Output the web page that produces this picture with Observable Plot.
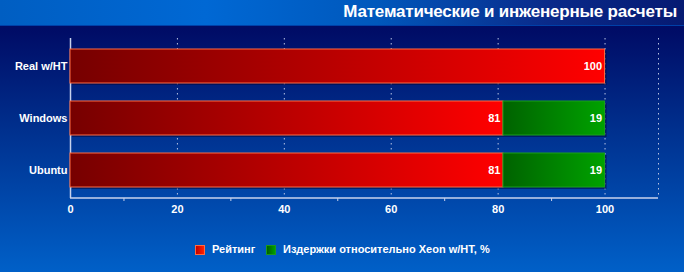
<!DOCTYPE html>
<html>
<head>
<meta charset="utf-8">
<script src="https://cdn.jsdelivr.net/npm/d3@7"></script>
<script src="https://cdn.jsdelivr.net/npm/@observablehq/plot@0.6"></script>
<style>
  html, body { margin: 0; padding: 0; }
  body { width: 684px; height: 272px; overflow: hidden; font-family: "Liberation Sans", Arial, sans-serif; }
  #wrap { position: relative; width: 684px; height: 272px;
    background: linear-gradient(to bottom, #000a62 0px, #000c66 30px, #00308e 130px, #0060c8 272px); }
  #title { position: absolute; left: 0; top: 0; width: 684px; height: 25px;
    background: linear-gradient(to right, #005ec2 0%, #0068d4 30%, #0058bc 55%, #0a2a8a 80%, #061a72 100%);
    border-bottom: 1px solid #0040a8; box-sizing: content-box; }
  #title span { position: absolute; right: 7px; top: 2px; color: #fff; font-weight: bold; font-size: 17px; letter-spacing: -0.2px; }
  #chart { position: absolute; left: 0; top: 26px; }
  #legend { position: absolute; left: 0; top: 242px; width: 684px; height: 16px; color: #fff; font-weight: bold; font-size: 11px; }
  .sw { position: absolute; top: 3px; width: 8px; height: 8px; }
  .lt { position: absolute; top: 0px; white-space: nowrap; line-height: 14px; }
</style>
</head>
<body>
<div id="wrap">
  <div id="title"><span>Математические и инженерные расчеты</span></div>
  <div id="chart"></div>
  <div id="legend">
    <div class="sw" style="left:195px;background:linear-gradient(to right,#c00000,#ff2000);border:1px solid #ff6a40;"></div>
    <div class="lt" style="left:212px;">Рейтинг</div>
    <div class="sw" style="left:266px;background:linear-gradient(to right,#006000,#00a000);border:1px solid #1a9a1a;"></div>
    <div class="lt" style="left:283px;">Издержки относительно Xeon w/HT, %</div>
  </div>
</div>
<script>
const categories = ["Real w/HT", "Windows", "Ubuntu"];
const rating = [100, 81, 81];
const overhead = [0, 19, 19];
const xTicks = [0, 20, 40, 60, 80, 100];
const minorTicks = [10, 30, 50, 70, 90];
const gridTicks = [20, 40, 60, 80, 100, 110];
const seriesNames = ["Рейтинг", "Издержки относительно Xeon w/HT, %"];

const rows = categories.map((c, i) => ({cat: c, r: rating[i], o: overhead[i]}));
const greenRows = rows.filter(d => d.o > 0);

const defs = () => {
  const g = d3.create("svg:defs");
  const red = g.append("linearGradient").attr("id", "gradRed").attr("x1", 0).attr("x2", 1).attr("y1", 0).attr("y2", 0);
  red.append("stop").attr("offset", "0%").attr("stop-color", "#760000");
  red.append("stop").attr("offset", "100%").attr("stop-color", "#ff0000");
  const green = g.append("linearGradient").attr("id", "gradGreen").attr("x1", 0).attr("x2", 1).attr("y1", 0).attr("y2", 0);
  green.append("stop").attr("offset", "0%").attr("stop-color", "#006200");
  green.append("stop").attr("offset", "100%").attr("stop-color", "#00a200");
  return g.node();
};

const axisLine = (index, scales, values, dim) => {
  const y = dim.height - dim.marginBottom;
  const g = d3.create("svg:line")
    .attr("x1", scales.x(0)).attr("x2", scales.x(110))
    .attr("y1", y).attr("y2", y)
    .attr("stroke", "#c8d2ec").attr("stroke-width", 1.5);
  return g.node();
};

const plot = Plot.plot({
  width: 684,
  height: 200,
  marginLeft: 70,
  marginRight: 26,
  marginTop: 12,
  marginBottom: 28,
  style: {background: "transparent", color: "#fff", fontFamily: "Liberation Sans, Arial, sans-serif"},
  x: {domain: [0, 110], axis: null, label: null},
  y: {domain: categories, paddingInner: 0.34, paddingOuter: 0.18, axis: null, label: null},
  marks: [
    defs,
    Plot.ruleX(gridTicks, {stroke: "#b8c4e4", strokeDasharray: "1.5,3.5", strokeWidth: 1}),
    Plot.ruleX([0], {stroke: "#c8d2ec", strokeWidth: 1.5}),
    axisLine,
    Plot.axisX({ticks: minorTicks, tickSize: 3, text: null, label: null, stroke: "#c8d2ec"}),
    Plot.axisX({ticks: xTicks, tickSize: 0, tickPadding: 7, label: null, fontSize: 11, fontWeight: "bold", fill: "#fff"}),
    Plot.axisY({tickSize: 0, tickPadding: 3, label: null, fontSize: 11, fontWeight: "bold", fill: "#fff"}),
    Plot.barX(rows, {x1: 0, x2: d => d.r + d.o, y: "cat", dx: 2, dy: 2, fill: "#000a40", fillOpacity: 0.55}),
    Plot.barX(rows, {x1: 0, x2: "r", y: "cat", fill: "url(#gradRed)", stroke: "#ff6a40", strokeWidth: 1, title: () => seriesNames[0]}),
    Plot.barX(greenRows, {x1: "r", x2: d => d.r + d.o, y: "cat", fill: "url(#gradGreen)", stroke: "#1aa01a", strokeWidth: 1, title: () => seriesNames[1]}),
    Plot.text(rows, {x: "r", y: "cat", text: d => String(d.r), textAnchor: "end", dx: -3, fill: "#fff", fontSize: 11, fontWeight: "bold"}),
    Plot.text(greenRows, {x: d => d.r + d.o, y: "cat", text: d => String(d.o), textAnchor: "end", dx: -3, fill: "#fff", fontSize: 11, fontWeight: "bold"})
  ]
});
document.getElementById("chart").appendChild(plot);
</script>
</body>
</html>
